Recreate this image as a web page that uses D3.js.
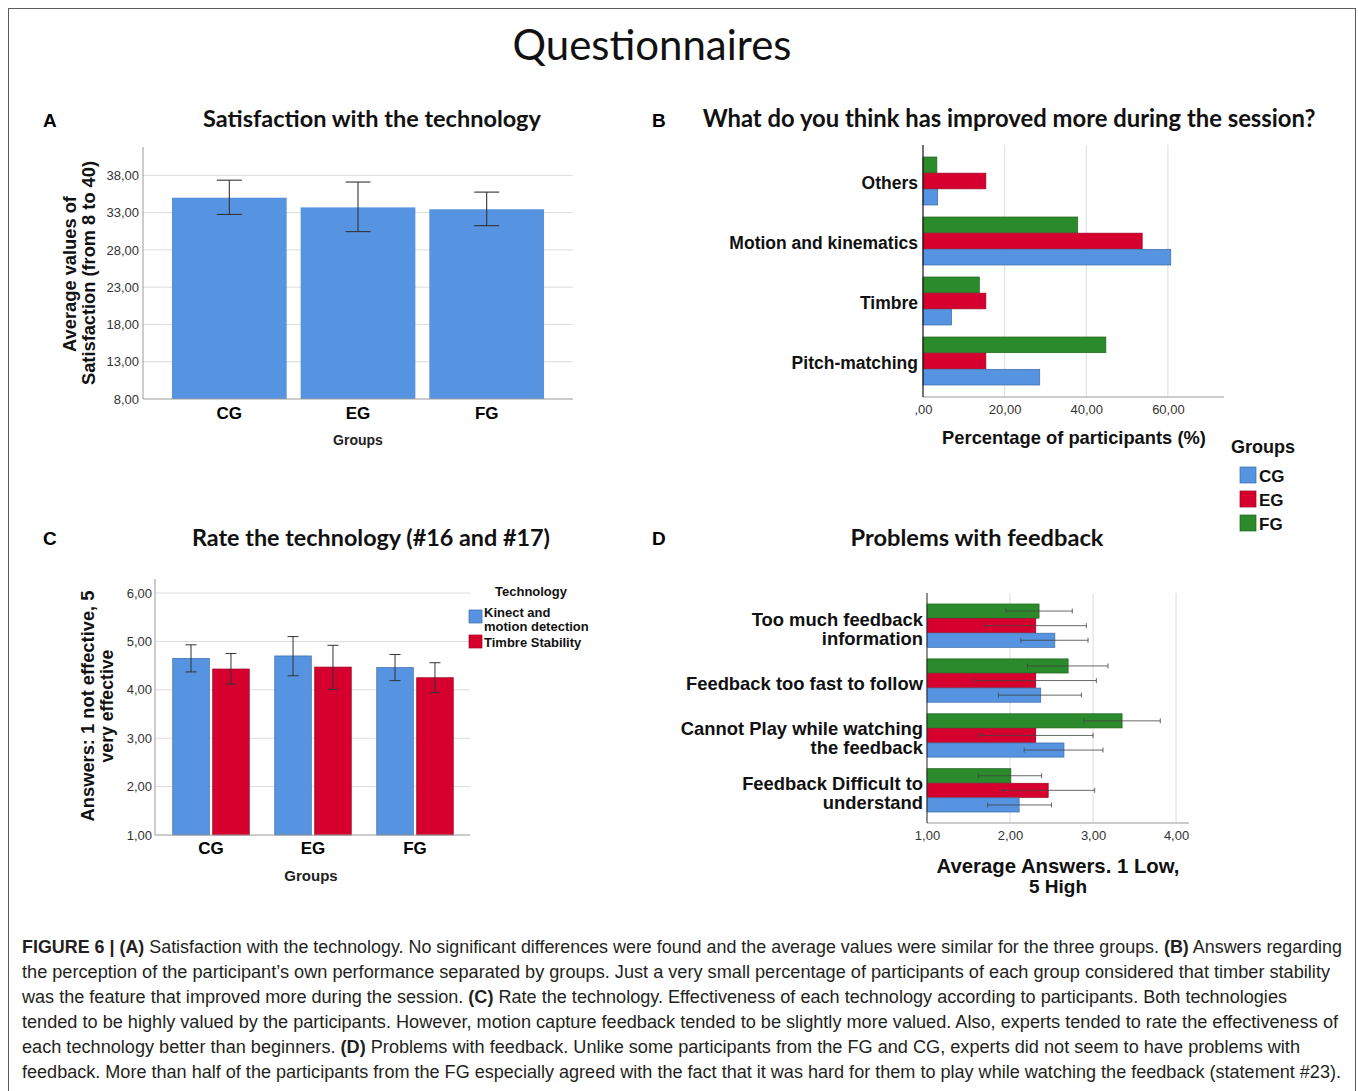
<!DOCTYPE html>
<html>
<head>
<meta charset="utf-8">
<script src="https://cdn.jsdelivr.net/npm/d3@7"></script>
<style>
  html, body { margin: 0; padding: 0; background: #fff; }
  svg { display: block; }
</style>
</head>
<body>
<svg id="fig" width="1358" height="1091"></svg>
<script>
// ---------- data ----------
const groups = ["CG", "EG", "FG"];

// A: satisfaction (mean with error interval)
const satisfactionMean = [35.0, 33.7, 33.45];
const satisfactionLow  = [32.75, 30.45, 31.25];
const satisfactionHigh = [37.35, 37.1, 35.75];
const satisfactionTicks = [8, 13, 18, 23, 28, 33, 38];

// B: what improved most (% of participants)
const improvedCategories = ["Others", "Motion and kinematics", "Timbre", "Pitch-matching"];
const improvedCG = [3.6, 60.7, 7.0, 28.6];
const improvedEG = [15.4, 53.7, 15.4, 15.4];
const improvedFG = [3.4, 37.9, 13.8, 44.8];
const improvedTicks = [0, 20, 40, 60];

// C: rating of each technology
const technologies = ["Kinect and motion detection", "Timbre Stability"];
const rateKinect     = [4.65, 4.70, 4.46];
const rateKinectLow  = [4.37, 4.29, 4.19];
const rateKinectHigh = [4.93, 5.10, 4.73];
const rateTimbre     = [4.43, 4.47, 4.25];
const rateTimbreLow  = [4.12, 4.01, 3.94];
const rateTimbreHigh = [4.75, 4.92, 4.56];
const rateTicks = [1, 2, 3, 4, 5, 6];

// D: problems with feedback
const problemCategories = [
  "Too much feedback information",
  "Feedback too fast to follow",
  "Cannot Play while watching the feedback",
  "Feedback Difficult to understand"
];
const problemLabelLines = [
  ["Too much feedback", "information"],
  ["Feedback too fast to follow"],
  ["Cannot Play while watching", "the feedback"],
  ["Feedback Difficult to", "understand"]
];
const problemCG     = [2.54, 2.37, 2.65, 2.11];
const problemCGLow  = [2.13, 1.86, 2.17, 1.73];
const problemCGHigh = [2.94, 2.86, 3.12, 2.50];
const problemEG     = [2.31, 2.31, 2.31, 2.46];
const problemEGLow  = [1.70, 1.58, 1.62, 1.91];
const problemEGHigh = [2.92, 3.04, 3.00, 3.02];
const problemFG     = [2.35, 2.70, 3.35, 2.01];
const problemFGLow  = [1.95, 2.21, 2.89, 1.62];
const problemFGHigh = [2.75, 3.18, 3.81, 2.38];
const problemTicks = [1, 2, 3, 4];

const captionLines = [
  [["FIGURE 6 | (A)", true], [" Satisfaction with the technology. No significant differences were found and the average values were similar for the three groups. ", false], ["(B)", true], [" Answers regarding", false]],
  [["the perception of the participant\u2019s own performance separated by groups. Just a very small percentage of participants of each group considered that timber stability", false]],
  [["was the feature that improved more during the session. ", false], ["(C)", true], [" Rate the technology. Effectiveness of each technology according to participants. Both technologies", false]],
  [["tended to be highly valued by the participants. However, motion capture feedback tended to be slightly more valued. Also, experts tended to rate the effectiveness of", false]],
  [["each technology better than beginners. ", false], ["(D)", true], [" Problems with feedback. Unlike some participants from the FG and CG, experts did not seem to have problems with", false]],
  [["feedback. More than half of the participants from the FG especially agreed with the fact that it was hard for them to play while watching the feedback (statement #23).", false]]
];
// right edge of each caption line (ragged right)
const captionLineEnds = [1342, 1330, 1287, 1338, 1300, 1341];

// ---------- styling ----------
const COLORS = { CG: "#5694e2", EG: "#d5002e", FG: "#2b8a2b" };
const TITLE_FONT = "Lato, 'Open Sans', sans-serif";
const SANS = "'Liberation Sans', Arial, Helvetica, sans-serif";
const NARROW = "'Liberation Sans Narrow', 'Arial Narrow', 'Liberation Sans', sans-serif";
const GRID = "#dcdcdc";

const fmt = v => v === 0 ? ",00" : d3.format(".2f")(v).replace(".", ",");

const svg = d3.select("#fig");

// scale a text's font-size so its advance equals the given width
function fitWidth(sel, width) {
  const w = sel.node().getComputedTextLength();
  const fs = parseFloat(sel.attr("font-size"));
  if (w > 0) sel.attr("font-size", (fs * width / w).toFixed(2));
  return sel;
}

function text(g, x, y, str, opts = {}) {
  const t = g.append("text")
    .attr("x", x).attr("y", y)
    .attr("font-family", opts.family || SANS)
    .attr("font-size", opts.size || 13)
    .attr("font-weight", opts.weight || "normal")
    .attr("fill", opts.fill || "#111")
    .attr("text-anchor", opts.anchor || "start")
    .text(str);
  if (opts.rotate) t.attr("transform", `rotate(-90,${x},${y})`);
  if (opts.fit) fitWidth(t, opts.fit);
  return t;
}

function styleAxis(g, size, weight, color) {
  g.selectAll("text")
    .attr("font-family", SANS).attr("font-size", size)
    .attr("font-weight", weight).attr("fill", color);
  g.select(".domain").remove();
}

// ---------- frame & main title ----------
svg.append("rect").attr("x", 8.5).attr("y", 8.5).attr("width", 1347).attr("height", 1100)
  .attr("fill", "none").attr("stroke", "#5a5a5a").attr("stroke-width", 1);

text(svg, 652, 60, "Questionnaires", { family: TITLE_FONT, size: 40, anchor: "middle", fill: "#111", fit: 279 });

// panel letters
[["A", 43, 127], ["B", 652, 127], ["C", 43, 545], ["D", 652, 545]].forEach(([s, x, y]) =>
  text(svg, x, y, s, { size: 19, weight: "bold", fill: "#000" }));

// ---------- Panel A ----------
{
  const g = svg.append("g");
  text(g, 372, 127, "Satisfaction with the technology", { family: TITLE_FONT, size: 22, weight: "bold", anchor: "middle", fit: 338 });

  const x = d3.scaleBand().domain(groups).range([143, 573]).paddingInner(0.1085).paddingOuter(0.225);
  const y = d3.scaleLinear().domain([8, 41.8]).range([399, 147]);

  g.selectAll("line.grid").data(satisfactionTicks.slice(1)).join("line")
    .attr("x1", 143).attr("x2", 573).attr("y1", d => y(d)).attr("y2", d => y(d))
    .attr("stroke", GRID).attr("stroke-width", 1);

  const rows = groups.map((k, i) => ({ k, v: satisfactionMean[i], lo: satisfactionLow[i], hi: satisfactionHigh[i] }));
  g.selectAll("rect.bar").data(rows).join("rect")
    .attr("x", d => x(d.k)).attr("width", x.bandwidth())
    .attr("y", d => y(d.v)).attr("height", d => y(8) - y(d.v))
    .attr("fill", COLORS.CG);

  const eb = g.selectAll("g.err").data(rows).join("g").attr("stroke", "#333").attr("stroke-width", 1.1);
  eb.append("line").attr("x1", d => x(d.k) + x.bandwidth() / 2).attr("x2", d => x(d.k) + x.bandwidth() / 2)
    .attr("y1", d => y(d.hi)).attr("y2", d => y(d.lo));
  ["hi", "lo"].forEach(key => eb.append("line")
    .attr("x1", d => x(d.k) + x.bandwidth() / 2 - 12.5).attr("x2", d => x(d.k) + x.bandwidth() / 2 + 12.5)
    .attr("y1", d => y(d[key])).attr("y2", d => y(d[key])));

  // axes
  g.append("line").attr("x1", 143).attr("x2", 143).attr("y1", 147).attr("y2", 399).attr("stroke", "#9a9a9a");
  g.append("line").attr("x1", 143).attr("x2", 573).attr("y1", 399).attr("y2", 399).attr("stroke", "#9a9a9a");
  const ay = g.append("g").attr("transform", "translate(143,0)")
    .call(d3.axisLeft(y).tickValues(satisfactionTicks).tickFormat(fmt).tickSize(0).tickPadding(4));
  styleAxis(ay, 13, "normal", "#333");
  const ax = g.append("g").attr("transform", "translate(0,399)")
    .call(d3.axisBottom(x).tickSize(0).tickPadding(8));
  styleAxis(ax, 17, "bold", "#000");

  text(g, 358, 445, "Groups", { size: 14, weight: "bold", anchor: "middle", fill: "#222" });
  text(g, 76, 274, "Average values of", { size: 17, weight: "bold", anchor: "middle", rotate: true, fit: 156 });
  text(g, 95, 273, "Satisfaction (from 8 to 40)", { size: 17, weight: "bold", anchor: "middle", rotate: true, fit: 224 });
}

// ---------- Panel B ----------
{
  const g = svg.append("g");
  text(g, 1009, 127, "What do you think has improved more during the session?", { family: TITLE_FONT, size: 22, weight: "bold", anchor: "middle", fit: 613 });

  const y = d3.scaleBand().domain(improvedCategories).range([151, 391]).paddingInner(0.2).paddingOuter(0.1);
  const sub = d3.scaleBand().domain(["FG", "EG", "CG"]).range([0, y.bandwidth()]).paddingInner(0.03);
  const x = d3.scaleLinear().domain([0, 73.5]).range([923, 1223]);

  g.selectAll("line.grid").data(improvedTicks.slice(1)).join("line")
    .attr("x1", d => x(d)).attr("x2", d => x(d)).attr("y1", 145).attr("y2", 397)
    .attr("stroke", GRID);

  const series = { CG: improvedCG, EG: improvedEG, FG: improvedFG };
  const rows = [];
  improvedCategories.forEach((c, i) => ["FG", "EG", "CG"].forEach(s => rows.push({ c, s, v: series[s][i] })));
  g.selectAll("rect.bar").data(rows).join("rect")
    .attr("x", x(0)).attr("width", d => x(d.v) - x(0))
    .attr("y", d => y(d.c) + sub(d.s)).attr("height", sub.bandwidth())
    .attr("fill", d => COLORS[d.s])
    .attr("stroke", d => d3.color(COLORS[d.s]).darker(0.9)).attr("stroke-width", 0.7);

  g.append("line").attr("x1", 923).attr("x2", 1224).attr("y1", 397).attr("y2", 397).attr("stroke", "#9a9a9a");
  g.append("line").attr("x1", 923).attr("x2", 923).attr("y1", 145).attr("y2", 397).attr("stroke", "#111").attr("stroke-width", 1.2);

  const ay = g.append("g").attr("transform", "translate(923,2)")
    .call(d3.axisLeft(y).tickSize(0).tickPadding(5));
  styleAxis(ay, 17.5, "bold", "#111");
  const ax = g.append("g").attr("transform", "translate(0,397)")
    .call(d3.axisBottom(x).tickValues(improvedTicks).tickFormat(fmt).tickSize(0).tickPadding(8));
  styleAxis(ax, 13, "normal", "#333");

  text(g, 1074, 444, "Percentage of participants (%)", { size: 18, weight: "bold", anchor: "middle", fit: 264 });

  // legend
  text(g, 1231, 453, "Groups", { size: 18, weight: "bold", fill: "#111" });
  const lg = g.selectAll("g.leg").data(groups).join("g")
    .attr("transform", (d, i) => `translate(1240,${467 + i * 24})`);
  lg.append("rect").attr("width", 16).attr("height", 16)
    .attr("fill", d => COLORS[d]).attr("stroke", d => d3.color(COLORS[d]).darker(0.9)).attr("stroke-width", 0.7);
  lg.append("text").attr("x", 19).attr("y", 14.5).text(d => d)
    .attr("font-family", SANS).attr("font-size", 17).attr("font-weight", "bold").attr("fill", "#111");
}

// ---------- Panel C ----------
{
  const g = svg.append("g");
  text(g, 371, 546, "Rate the technology (#16 and #17)", { family: TITLE_FONT, size: 22, weight: "bold", anchor: "middle", fit: 358 });

  const x = d3.scaleBand().domain(groups).range([160, 466]).paddingInner(0.25).paddingOuter(0.125);
  const sub = d3.scaleBand().domain(technologies).range([0, x.bandwidth()]).paddingInner(0.085);
  const y = d3.scaleLinear().domain([1, 6.29]).range([835, 579]);
  const techColor = { [technologies[0]]: COLORS.CG, [technologies[1]]: COLORS.EG };

  g.selectAll("line.grid").data(rateTicks.slice(1)).join("line")
    .attr("x1", 155).attr("x2", 470).attr("y1", d => y(d)).attr("y2", d => y(d))
    .attr("stroke", GRID);

  const rows = [];
  groups.forEach((k, i) => {
    rows.push({ k, t: technologies[0], v: rateKinect[i], lo: rateKinectLow[i], hi: rateKinectHigh[i] });
    rows.push({ k, t: technologies[1], v: rateTimbre[i], lo: rateTimbreLow[i], hi: rateTimbreHigh[i] });
  });
  g.selectAll("rect.bar").data(rows).join("rect")
    .attr("x", d => x(d.k) + sub(d.t)).attr("width", sub.bandwidth())
    .attr("y", d => y(d.v)).attr("height", d => y(1) - y(d.v))
    .attr("fill", d => techColor[d.t])
    .attr("stroke", d => d3.color(techColor[d.t]).darker(0.9)).attr("stroke-width", 0.7);

  const cx = d => x(d.k) + sub(d.t) + sub.bandwidth() / 2;
  const eb = g.selectAll("g.err").data(rows).join("g").attr("stroke", "#333").attr("stroke-width", 1);
  eb.append("line").attr("x1", cx).attr("x2", cx).attr("y1", d => y(d.hi)).attr("y2", d => y(d.lo));
  ["hi", "lo"].forEach(key => eb.append("line")
    .attr("x1", d => cx(d) - 5.5).attr("x2", d => cx(d) + 5.5)
    .attr("y1", d => y(d[key])).attr("y2", d => y(d[key])));

  g.append("line").attr("x1", 155).attr("x2", 155).attr("y1", 579).attr("y2", 835).attr("stroke", "#9a9a9a");
  g.append("line").attr("x1", 155).attr("x2", 470).attr("y1", 835).attr("y2", 835).attr("stroke", "#9a9a9a");
  const ay = g.append("g").attr("transform", "translate(155,0)")
    .call(d3.axisLeft(y).tickValues(rateTicks).tickFormat(fmt).tickSize(0).tickPadding(3));
  styleAxis(ay, 13, "normal", "#333");
  const ax = g.append("g").attr("transform", "translate(0,835)")
    .call(d3.axisBottom(x).tickSize(0).tickPadding(7));
  styleAxis(ax, 17, "bold", "#000");

  text(g, 311, 881, "Groups", { size: 15, weight: "bold", anchor: "middle", fill: "#222" });
  text(g, 94, 706, "Answers: 1 not effective, 5", { size: 18, weight: "bold", anchor: "middle", rotate: true, fit: 231 });
  text(g, 113, 706, "very effective", { size: 18, weight: "bold", anchor: "middle", rotate: true, fit: 113 });

  // legend
  text(g, 531, 596, "Technology", { size: 13, weight: "bold", anchor: "middle", fill: "#111" });
  g.append("rect").attr("x", 469).attr("y", 610).attr("width", 13).attr("height", 13)
    .attr("fill", COLORS.CG).attr("stroke", d3.color(COLORS.CG).darker(0.9)).attr("stroke-width", 0.7);
  g.append("rect").attr("x", 469).attr("y", 635).attr("width", 13).attr("height", 13)
    .attr("fill", COLORS.EG).attr("stroke", d3.color(COLORS.EG).darker(0.9)).attr("stroke-width", 0.7);
  text(g, 484, 617, "Kinect and", { size: 13, weight: "bold" });
  text(g, 484, 631, "motion detection", { size: 13, weight: "bold" });
  text(g, 484, 647, technologies[1], { size: 13, weight: "bold" });
}

// ---------- Panel D ----------
{
  const g = svg.append("g");
  text(g, 977, 546, "Problems with feedback", { family: TITLE_FONT, size: 22, weight: "bold", anchor: "middle", fit: 253 });

  const y = d3.scaleBand().domain(problemCategories).range([593, 823]).paddingInner(0.21).paddingOuter(0.2);
  const sub = d3.scaleBand().domain(["FG", "EG", "CG"]).range([0, y.bandwidth()]).paddingInner(0.03);
  const x = d3.scaleLinear().domain([1, 4.15]).range([927, 1188.5]);

  g.selectAll("line.grid").data(problemTicks.slice(1)).join("line")
    .attr("x1", d => x(d)).attr("x2", d => x(d)).attr("y1", 593).attr("y2", 823)
    .attr("stroke", GRID);

  const series = {
    CG: [problemCG, problemCGLow, problemCGHigh],
    EG: [problemEG, problemEGLow, problemEGHigh],
    FG: [problemFG, problemFGLow, problemFGHigh]
  };
  const rows = [];
  problemCategories.forEach((c, i) => ["FG", "EG", "CG"].forEach(s =>
    rows.push({ c, s, v: series[s][0][i], lo: series[s][1][i], hi: series[s][2][i] })));

  g.selectAll("rect.bar").data(rows).join("rect")
    .attr("x", x(1)).attr("width", d => x(d.v) - x(1))
    .attr("y", d => y(d.c) + sub(d.s)).attr("height", sub.bandwidth())
    .attr("fill", d => COLORS[d.s])
    .attr("stroke", d => d3.color(COLORS[d.s]).darker(0.9)).attr("stroke-width", 0.7);

  const cy = d => y(d.c) + sub(d.s) + sub.bandwidth() / 2;
  const eb = g.selectAll("g.err").data(rows).join("g").attr("stroke", "#444").attr("stroke-width", 1).attr("stroke-opacity", 0.8);
  eb.append("line").attr("x1", d => x(d.lo)).attr("x2", d => x(d.hi)).attr("y1", cy).attr("y2", cy);
  ["hi", "lo"].forEach(key => eb.append("line")
    .attr("x1", d => x(d[key])).attr("x2", d => x(d[key]))
    .attr("y1", d => cy(d) - 2.5).attr("y2", d => cy(d) + 2.5));

  g.append("line").attr("x1", 927).attr("x2", 1189).attr("y1", 823).attr("y2", 823).attr("stroke", "#9a9a9a");
  g.append("line").attr("x1", 927).attr("x2", 927).attr("y1", 593).attr("y2", 823).attr("stroke", "#333").attr("stroke-width", 1.1);

  const ax = g.append("g").attr("transform", "translate(0,823)")
    .call(d3.axisBottom(x).tickValues(problemTicks).tickFormat(fmt).tickSize(0).tickPadding(8));
  styleAxis(ax, 13, "normal", "#333");

  // multi-line category labels
  problemCategories.forEach((c, i) => {
    const lines = problemLabelLines[i];
    const mid = y(c) + y.bandwidth() / 2 + 3;
    lines.forEach((ln, j) => {
      text(g, 923, mid + (j - (lines.length - 1) / 2) * 19 + 6.5, ln, { size: 18.4, weight: "bold", anchor: "end", fill: "#111" });
    });
  });

  text(g, 1058, 873, "Average Answers. 1 Low,", { size: 19, weight: "bold", anchor: "middle", fit: 243 });
  text(g, 1058, 893, "5 High", { size: 19, weight: "bold", anchor: "middle" });
}

// ---------- caption ----------
{
  const g = svg.append("g");
  captionLines.forEach((parts, i) => {
    const t = g.append("text").attr("x", 22).attr("y", 953 + i * 25)
      .attr("font-family", NARROW).attr("font-size", 17.5).attr("fill", "#231f20");
    parts.forEach(([s, b]) => t.append("tspan").attr("font-weight", b ? "bold" : "normal").text(s));
    // condense the line to its set width
    t.attr("textLength", captionLineEnds[i] - 22).attr("lengthAdjust", "spacingAndGlyphs");
  });
}
</script>
</body>
</html>
